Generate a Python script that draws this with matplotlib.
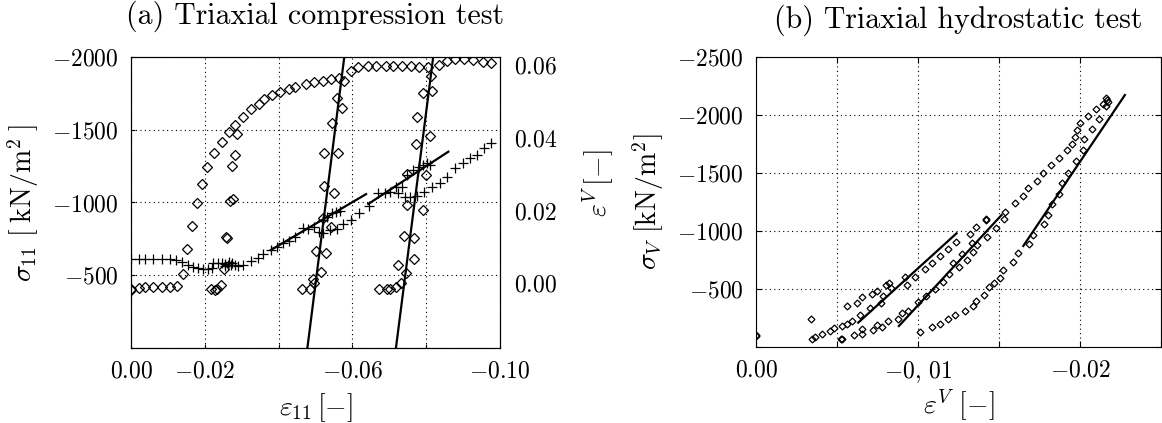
import matplotlib
matplotlib.use("Agg")
import matplotlib.pyplot as plt

plt.rcParams.update({
    "font.family": "serif",
    "font.serif": ["cmr10"],
    "mathtext.fontset": "cm",
    "axes.unicode_minus": False,
    "axes.formatter.use_mathtext": True,
    "font.size": 17,
})

# (a) triaxial compression: sigma_11 vs eps_11 (diamonds)
comp_eps = [0.0, 0.0, -0.0021, -0.0039, -0.0060, -0.0084, -0.0105, -0.0126,
            -0.0142, -0.0151, -0.0165, -0.0180, -0.0192, -0.0207, -0.0224, -0.0247,
            -0.0266, -0.0282, -0.0304, -0.0326, -0.0346, -0.0360, -0.0381, -0.0405,
            -0.0427, -0.0445, -0.0473, -0.0496, -0.0519, -0.0541, -0.0565, -0.0577,
            -0.0595, -0.0616, -0.0643, -0.0664, -0.0690, -0.0711, -0.0734, -0.0758,
            -0.0781, -0.0806, -0.0835, -0.0856, -0.0878, -0.0902, -0.0927, -0.0953,
            -0.0975,
            -0.0288, -0.0281, -0.0275, -0.0276, -0.0268, -0.0258, -0.0260, -0.0251,
            -0.0245, -0.0234, -0.0227, -0.0218,
            -0.0557, -0.0571, -0.0546, -0.0524, -0.0562, -0.0524, -0.0551, -0.0520,
            -0.0541, -0.0501, -0.0529, -0.0515, -0.0494, -0.0497, -0.0485, -0.0463,
            -0.0813, -0.0792, -0.0817, -0.0776, -0.0810, -0.0772, -0.0748, -0.0800,
            -0.0747, -0.0792, -0.0739, -0.0767, -0.0724, -0.0767, -0.0744, -0.0731,
            -0.0718, -0.0702, -0.0693, -0.0671]
comp_sig = [-399, -405, -412, -419, -419, -417, -417, -424,
            -511, -678, -841, -994, -1129, -1246, -1338, -1416,
            -1482, -1535, -1590, -1640, -1679, -1709, -1739, -1759,
            -1778, -1794, -1814, -1826, -1837, -1847, -1854, -1835,
            -1906, -1929, -1938, -1938, -1938, -1938, -1938, -1938,
            -1933, -1933, -1945, -1973, -1986, -1986, -1979, -1968,
            -1957,
            -1469, -1324, -1253, -1026, -1008, -763, -758, -541,
            -431, -403, -399, -403,
            -1716, -1652, -1544, -1338, -1338, -1116, -1063, -896,
            -834, -669, -655, -524, -474, -444, -408, -403,
            -1869, -1750, -1768, -1590, -1457, -1400, -1196, -1189,
            -985, -951, -770, -758, -570, -614, -513, -445,
            -417, -403, -403, -403]

# volumetric strain eps^V vs eps_11 (plus markers, right axis)
vol_eps11 = [0.0, -0.0021, -0.0039, -0.0060, -0.0084, -0.0105, -0.0123, -0.0139,
             -0.0155, -0.0168, -0.0182, -0.0195, -0.0209, -0.0220,
             -0.0222, -0.0236, -0.0247, -0.0256, -0.0263, -0.0272, -0.0281, -0.0290,
             -0.0255, -0.0265, -0.0275,
             -0.0304, -0.0324, -0.0344, -0.0358, -0.0379, -0.0396, -0.0412, -0.0427,
             -0.0444,
             -0.0465, -0.0481, -0.0496, -0.0510, -0.0521, -0.0520, -0.0532, -0.0544,
             -0.0556, -0.0566, -0.0539, -0.0557, -0.0575, -0.0596, -0.0618, -0.0646,
             -0.0670, -0.0688, -0.0702, -0.0718, -0.0734, -0.0724, -0.0743, -0.0756,
             -0.0774, -0.0747, -0.0765, -0.0781, -0.0792, -0.0803, -0.0810,
             -0.0795, -0.0815, -0.0837, -0.0856, -0.0878, -0.0900, -0.0919, -0.0937,
             -0.0957, -0.0976]
vol_epsv = [0.0067, 0.0067, 0.0067, 0.0067, 0.0067, 0.0065, 0.0064, 0.0059,
            0.0050, 0.0045, 0.0041, 0.0039, 0.0039, 0.0041,
            0.0056, 0.0056, 0.0054, 0.0052, 0.0050, 0.0050, 0.0050, 0.0047,
            0.0046, 0.0058, 0.0055,
            0.0050, 0.0061, 0.0068, 0.0080, 0.0091, 0.0099, 0.0110, 0.0117,
            0.0126,
            0.0151, 0.0148, 0.0154, 0.0142, 0.0139, 0.0174, 0.0183, 0.0192,
            0.0197, 0.0199, 0.0146, 0.0149, 0.0163, 0.0174, 0.0192, 0.0213,
            0.0248, 0.0249, 0.0252, 0.0264, 0.0266, 0.0248, 0.0238, 0.0238,
            0.0240, 0.0298, 0.0312, 0.0319, 0.0326, 0.0330, 0.0326,
            0.0252, 0.0264, 0.0277, 0.0293, 0.0317, 0.0332, 0.0344, 0.0353,
            0.0372, 0.0386]

# fitted straight lines (endpoints)
unload_eps = [[-0.0478, -0.0578], [-0.0718, -0.0819]]
unload_sig = [[0, -2000], [0, -2000]]
dil_eps = [[-0.0379, -0.0637], [-0.0643, -0.0860]]
dil_epsv = [[0.0091, 0.0245], [0.0218, 0.0362]]

# (b) triaxial hydrostatic: sigma_V vs eps^V (diamonds)
hydro_eps = [0.0, 0.0,
             -0.00339, -0.00344, -0.00364, -0.00405, -0.00457, -0.00481, -0.00524, -0.00528,
             -0.00533, -0.00563, -0.00563, -0.00594, -0.00605, -0.00625, -0.00652, -0.00656,
             -0.00656, -0.00642, -0.00703, -0.00714, -0.00724, -0.00745, -0.00745, -0.00770,
             -0.00776, -0.00786, -0.00800, -0.00813, -0.00823, -0.00833, -0.00878, -0.00899,
             -0.00930, -0.00940,
             -0.0092, -0.0098, -0.01043, -0.01084, -0.01135, -0.01187, -0.01234, -0.0132,
             -0.01357, -0.01419, -0.01419, -0.01331, -0.01366, -0.01341, -0.0130, -0.01269,
             -0.01255, -0.01218, -0.01193, -0.01152, -0.01104, -0.01049, -0.01001,
             -0.01427, -0.01481, -0.0153, -0.01536, -0.01598, -0.0165, -0.0168, -0.01736,
             -0.01769, -0.01818, -0.0187, -0.01917, -0.01948, -0.01968, -0.01979, -0.02003,
             -0.0205, -0.02098, -0.02139, -0.0216, -0.02167, -0.02173, -0.0216,
             -0.02118, -0.02071, -0.02024, -0.02016, -0.01974, -0.01927, -0.01886, -0.01871,
             -0.0183, -0.01803, -0.01777, -0.01707, -0.01684,
             -0.01619, -0.01588, -0.01526, -0.01505, -0.01468, -0.01439, -0.01409, -0.01357,
             -0.01337, -0.0129, -0.01228, -0.01187, -0.01135, -0.01084, -0.01012]
hydro_sig = [-97, -105,
             -241, -72, -84, -109, -138, -161, -66, -70,
             -184, -201, -356, -221, -103, -382, -434, -153,
             -112, -276, -333, -457, -147, -485, -190, -382,
             -175, -442, -534, -227, -554, -506, -241, -290,
             -534, -310,
             -606, -606, -670, -721, -784, -842, -908, -974,
             -1037, -1095, -1100, -894, -879, -821, -750, -802,
             -687, -721, -629, -563, -497, -442, -391,
             -946, -1023, -1106, -1166, -1239, -1302, -1373, -1434,
             -1497, -1569, -1626, -1698, -1750, -1808, -1871, -1934,
             -1991, -2049, -2095, -2144, -2129, -2109, -2077,
             -1963, -1879, -1790, -1698, -1606, -1502, -1411, -1319,
             -1230, -1138, -1060, -965, -885,
             -808, -735, -664, -597, -549, -515, -448, -399,
             -353, -313, -276, -239, -198, -175, -132]

hydro_fit_eps = [[-0.00631, -0.01238], [-0.00882, -0.01516], [-0.0165, -0.02277]]
hydro_fit_sig = [[-210, -980], [-181, -1138], [-871, -2172]]

grid_kw = dict(color="k", linestyle=(0, (1, 3)), linewidth=0.8)

fig = plt.figure(figsize=(11.62, 4.23), dpi=100)

# ---- (a) ----
ax1 = fig.add_axes([131 / 1162, 75 / 423, 369 / 1162, 291 / 423])
ax1.plot(comp_eps, comp_sig, linestyle="none", marker="D", markersize=5,
         markerfacecolor="none", markeredgecolor="k", markeredgewidth=0.9, zorder=3)
for xs, ys in zip(unload_eps, unload_sig):
    ax1.plot(xs, ys, color="k", linewidth=1.6, zorder=4)
ax1.set_xlim(0, -0.1)
ax1.set_ylim(0, -2000)
ax1.set_xticks([0, -0.02, -0.04, -0.06, -0.08, -0.10])
ax1.set_xticklabels([r"$0.00$", r"$-0.02$", "", r"$-0.06$", "", r"$-0.10$"])
ax1.set_yticks([0, -500, -1000, -1500, -2000])
ax1.set_yticklabels(["", r"$-500$", r"$-1000$", r"$-1500$", r"$-2000$"])
ax1.grid(True, **grid_kw)
ax1.tick_params(direction="in", length=3, labelsize=17, pad=9)
ax1.set_xlabel(r"$\varepsilon_{11}\,[-]$", fontsize=20, labelpad=6)
ax1.set_ylabel(r"$\sigma_{11}\ [\;\mathrm{kN/m^2}\;]$", fontsize=20, labelpad=8)
ax1.set_title("(a) Triaxial compression test", fontsize=21.5, pad=24)

ax2 = ax1.twinx()
ax2.plot(vol_eps11, vol_epsv, linestyle="none", marker="+", markersize=7,
         markeredgecolor="k", markeredgewidth=0.9, zorder=3)
for xs, ys in zip(dil_eps, dil_epsv):
    ax2.plot(xs, ys, color="k", linewidth=1.6, zorder=4)
ax2.set_ylim(-0.0179, 0.0623)
ax2.set_yticks([0.0, 0.02, 0.04, 0.06])
ax2.set_yticklabels([r"$0.00$", r"$0.02$", r"$0.04$", r"$0.06$"])
ax2.tick_params(direction="in", length=0, labelsize=17, pad=10)
ax2.set_ylabel(r"$\varepsilon^V\,[-]$", fontsize=20, rotation=90)
ax2.yaxis.set_label_coords(1.218, 0.565)

# ---- (b) ----
ax3 = fig.add_axes([756 / 1162, 76 / 423, 405 / 1162, 290 / 423])
ax3.plot(hydro_eps, hydro_sig, linestyle="none", marker="D", markersize=3.5,
         markerfacecolor="none", markeredgecolor="k", markeredgewidth=0.9, zorder=3)
for xs, ys in zip(hydro_fit_eps, hydro_fit_sig):
    ax3.plot(xs, ys, color="k", linewidth=1.6, zorder=4)
ax3.set_xlim(0, -0.025)
ax3.set_ylim(0, -2500)
ax3.set_xticks([0, -0.005, -0.01, -0.015, -0.02, -0.025])
ax3.set_xticklabels([r"$0.00$", "", r"$-0,\,01$", "", r"$-0.02$", ""])
ax3.set_yticks([0, -500, -1000, -1500, -2000, -2500])
ax3.set_yticklabels(["", r"$-500$", r"$-1000$", r"$-1500$", r"$-2000$", r"$-2500$"])
ax3.grid(True, **grid_kw)
ax3.tick_params(direction="in", length=4, top=True, right=True, labelsize=17, pad=9)
ax3.set_xlabel(r"$\varepsilon^V\ [-]$", fontsize=20, labelpad=2)
ax3.set_ylabel(r"$\sigma_V\ [\mathrm{kN/m^2}]$", fontsize=20, labelpad=8)
ax3.set_title("(b) Triaxial hydrostatic test", fontsize=21.5, pad=21)

fig.savefig("out.png", dpi=100)
